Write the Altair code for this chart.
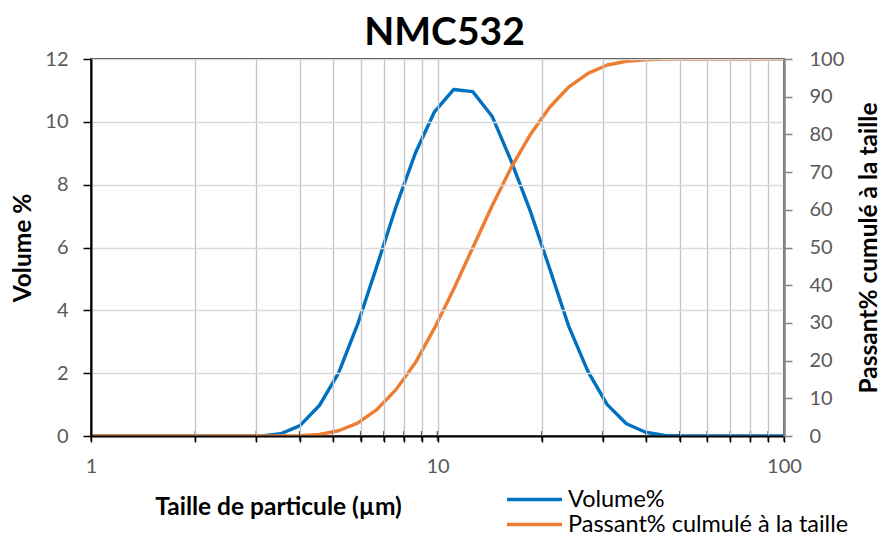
import altair as alt
import pandas as pd

# Particle size classes (µm)
sizes = [0.986, 1.12, 1.27, 1.45, 1.64, 1.86, 2.12, 2.41, 2.73, 3.11,
         3.53, 4.01, 4.56, 5.18, 5.88, 6.68, 7.59, 8.63, 9.80, 11.14,
         12.65, 14.37, 16.32, 18.54, 21.07, 23.94, 27.19, 30.89, 35.09, 39.86,
         45.29, 51.45, 58.45, 66.4, 75.4, 85.7, 97.4, 110.6]
# Volume % (left axis)
volume = [0, 0, 0, 0, 0, 0, 0, 0, 0, 0,
          0.07, 0.33, 0.97, 2.0, 3.55, 5.4, 7.3, 9.0, 10.32, 11.03,
          10.96, 10.18, 8.75, 7.15, 5.33, 3.48, 2.05, 1.0, 0.39, 0.12,
          0.02, 0, 0, 0, 0, 0, 0, 0]
# Cumulative passing % (right axis)
passing = [0, 0, 0, 0, 0, 0, 0, 0, 0, 0,
           0, 0.1, 0.4, 1.4, 3.4, 7.0, 12.3, 19.4, 28.6, 39.0,
           50.0, 61.0, 71.2, 80.0, 87.2, 92.6, 96.2, 98.4, 99.4, 99.8,
           100, 100, 100, 100, 100, 100, 100, 100]

x_ticks = [1, 2, 3, 4, 5, 6, 7, 8, 9, 10, 20, 30, 40, 50, 60, 70, 80, 90, 100]
left_ticks = [0, 2, 4, 6, 8, 10, 12]
right_ticks = [0, 10, 20, 30, 40, 50, 60, 70, 80, 90, 100]

series_names = ["Volume%", "Passant% culmulé à la taille"]
series_colors = ["#0070C0", "#ED7D31"]

df = pd.DataFrame({"size": sizes, "volume": volume, "passing": passing})
df["s_vol"] = series_names[0]
df["s_pass"] = series_names[1]
ticks_df = pd.DataFrame({"size": x_ticks})

FONT = "Lato"

x_scale = alt.Scale(type="log", domain=[1, 100])


def make_legend(y):
    return alt.Legend(
        title=None, orient="none", legendX=414, legendY=y,
        symbolType="stroke", symbolSize=3025, symbolStrokeWidth=3.5,
        labelFontSize=23.5, labelFont=FONT, labelColor="#000000",
        labelOffset=4, labelLimit=500, padding=0,
    )


x_enc = alt.X(
    "size:Q", scale=x_scale,
    axis=alt.Axis(
        values=x_ticks, format="d",
        labelExpr="datum.value == 1 || datum.value == 10 || datum.value == 100 ? datum.label : ''",
        title="Taille de particule (µm)", titleX=187, titleY=78,
        titleBaseline="alphabetic", titleAnchor="middle",
        grid=True, gridColor="#c4c4c4", gridWidth=1.3,
        domainColor="#000000", domainWidth=2,
        tickColor="#000000", tickSize=6, tickWidth=1.5,
        labelPadding=14, labelOverlap=False, labelFlush=False, zindex=1,
    ),
)

blue = alt.Chart(df).mark_line(clip=True, strokeWidth=3.4, strokeJoin="round").encode(
    x=x_enc,
    y=alt.Y("volume:Q", scale=alt.Scale(domain=[0, 12]),
            axis=alt.Axis(values=left_ticks, title="Volume %", orient="left",
                          grid=True, gridColor="#d9d9d9", gridWidth=1.5,
                          domainColor="#000000", domainWidth=2,
                          tickColor="#000000", tickSize=8, tickWidth=1.5,
                          labelPadding=15, titleAngle=270, titleX=-68,
                          titleBaseline="middle", zindex=1)),
    color=alt.Color("s_vol:N",
                    scale=alt.Scale(domain=[series_names[0]], range=[series_colors[0]]),
                    legend=make_legend(411)),
)

orange = alt.Chart(df).mark_line(clip=True, strokeWidth=3.4, strokeJoin="round").encode(
    x=alt.X("size:Q", scale=x_scale),
    y=alt.Y("passing:Q", scale=alt.Scale(domain=[0, 100]),
            axis=alt.Axis(values=right_ticks, title="Passant% cumulé à la taille",
                          orient="right", grid=False,
                          domainColor="#868686", domainWidth=2.5,
                          tickColor="#868686", tickSize=8, tickWidth=1.5,
                          labelPadding=17, titleAngle=270, titleX=85,
                          titleBaseline="middle", zindex=1)),
    color=alt.Color("s_pass:N",
                    scale=alt.Scale(domain=[series_names[1]], range=[series_colors[1]]),
                    legend=make_legend(436)),
)

cross_ticks = alt.Chart(ticks_df).mark_tick(
    orient="vertical", size=10, thickness=1.5, color="#000000"
).encode(
    x=alt.X("size:Q", scale=x_scale),
    y=alt.Y(datum=0, scale=alt.Scale(domain=[0, 12]), axis=None),
)

chart = alt.layer(blue, orange, cross_ticks).resolve_scale(
    y="independent", color="independent"
).properties(
    width=693, height=377,
    background="#ffffff",
    autosize=alt.AutoSizeParams(type="none"),
    padding={"left": 83, "top": 51, "right": 96, "bottom": 105},
    title=alt.Title("NMC532", fontSize=39, font=FONT, fontWeight="bold",
                    color="#000000", anchor="middle", dx=7, dy=16, offset=12,
                    frame="group"),
).configure_view(
    stroke="#000000", strokeWidth=1.5
).configure_axis(
    labelFont=FONT, labelFontSize=20, labelColor="#595959",
    titleFont=FONT, titleFontSize=24.5, titleFontWeight="bold", titleColor="#000000",
)

chart.save("out.html", embed_options={"renderer": "svg", "actions": False})
